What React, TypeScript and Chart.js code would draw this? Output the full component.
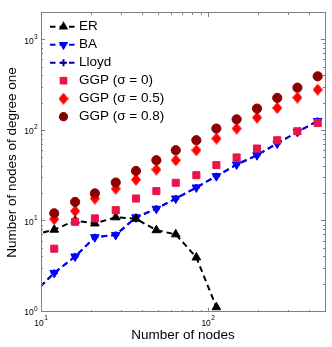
import React, { useEffect, useRef } from 'react';
import { Chart, registerables } from 'chart.js';

Chart.register(...registerables);

const FONT = "'Liberation Sans', Arial, Helvetica, sans-serif";

// ---- data ----
const nodes = [9, 12, 16, 21, 28, 37, 49, 64, 85, 112, 148, 196, 259, 342, 452];
const erNodes = [9, 12, 16, 21, 28, 37, 49, 64, 85, 112];
const erValues = [7.1, 8.1, 10.2, 9.5, 11.1, 10.7, 8.0, 7.2, 4.0, 1.13];
const baValues = [1.6, 2.7, 4.1, 6.7, 7.1, 11.1, 13.8, 17.9, 23.7, 31.6, 42.5, 53.8, 72.4, 97.3, 128.6];
const lloydValues = [1.6, 2.7, 4.1, 6.7, 7.1, 11.1, 13.8, 17.9, 23.7, 31.6, 42.5, 53.8, 72.4, 97.3, 128.6];
const ggpNodes = [12, 16, 21, 28, 37, 49, 64, 85, 112, 148, 196, 259, 342, 452];
const ggp0Values = [5.0, 9.9, 10.8, 13.3, 17.9, 21.6, 26.7, 32.4, 41.8, 50.8, 63.8, 78.7, 99, 122];
const ggp05Values = [10.6, 13.0, 17.9, 23.0, 28.9, 37.4, 47.4, 61.1, 82.2, 106, 140, 179, 233, 285];
const ggp08Values = [12.3, 16.4, 20.4, 26.9, 36.1, 47.4, 61.1, 78.8, 106, 134, 176, 231, 300, 400];

const legendLabels = ['ER', 'BA', 'Lloyd', 'GGP (\u03c3 = 0)', 'GGP (\u03c3 = 0.5)', 'GGP (\u03c3 = 0.8)'];
const xMajorTicks = [10, 100];
const yMajorTicks = [1, 10, 100, 1000];
const xRange = [10, 500];
const yRange = [1, 2000];
const xTitle = 'Number of nodes';
const yTitle = 'Number of nodes of degree one';

const AXIS_COLOR = '#7f7f7f';
const C_ER = '#000000';
const C_BA = '#0000ff';
const C_LLOYD = '#00009c';
const C_G0 = 'rgb(234,20,74)';
const C_G05 = 'rgb(255,0,0)';
const C_G08 = 'rgb(140,0,0)';

const zip = (xs: number[], ys: number[]) => xs.map((x, i) => ({ x, y: ys[i] }));

function makeDiamond(color: string): HTMLCanvasElement {
  const c = document.createElement('canvas');
  c.width = 10;
  c.height = 12;
  const g = c.getContext('2d')!;
  g.fillStyle = color;
  g.beginPath();
  g.moveTo(5, 0);
  g.lineTo(10, 6);
  g.lineTo(5, 12);
  g.lineTo(0, 6);
  g.closePath();
  g.fill();
  return c;
}

function logTicks(min: number, max: number, majors: number[]) {
  const out: { value: number; major: boolean }[] = [];
  for (let d = Math.floor(Math.log10(min)); d <= Math.ceil(Math.log10(max)); d++) {
    for (let k = 1; k <= 9; k++) {
      const v = k * Math.pow(10, d);
      if (v >= min - 1e-9 && v <= max + 1e-9) {
        out.push({ value: v, major: majors.indexOf(v) >= 0 });
      }
    }
  }
  return out;
}

function drawMarker(ctx: CanvasRenderingContext2D, kind: string, x: number, y: number, color: string, img?: HTMLCanvasElement) {
  ctx.save();
  ctx.fillStyle = color;
  ctx.strokeStyle = color;
  ctx.setLineDash([]);
  const r = 5.5;
  if (kind === 'triUp') {
    ctx.beginPath();
    ctx.moveTo(x, y - r);
    ctx.lineTo(x + 0.866 * r, y + r / 2);
    ctx.lineTo(x - 0.866 * r, y + r / 2);
    ctx.closePath();
    ctx.fill();
  } else if (kind === 'triDown') {
    ctx.beginPath();
    ctx.moveTo(x, y + r);
    ctx.lineTo(x + 0.866 * r, y - r / 2);
    ctx.lineTo(x - 0.866 * r, y - r / 2);
    ctx.closePath();
    ctx.fill();
  } else if (kind === 'plus') {
    ctx.lineWidth = 2;
    ctx.beginPath();
    ctx.moveTo(x - 3.5, y);
    ctx.lineTo(x + 3.5, y);
    ctx.moveTo(x, y - 3.5);
    ctx.lineTo(x, y + 3.5);
    ctx.stroke();
  } else if (kind === 'square') {
    ctx.fillRect(x - 3.8, y - 3.8, 7.6, 7.6);
  } else if (kind === 'diamond' && img) {
    ctx.drawImage(img, x - img.width / 2, y - img.height / 2);
  } else if (kind === 'circle') {
    ctx.beginPath();
    ctx.arc(x, y, 4.6, 0, Math.PI * 2);
    ctx.fill();
  }
  ctx.restore();
}

function sup(n: number) {
  return String(Math.round(Math.log10(n)));
}

export default function App() {
  const ref = useRef<HTMLCanvasElement>(null);

  useEffect(() => {
    const canvas = ref.current;
    if (!canvas) return;
    const diamond = makeDiamond(C_G05);
    const kinds = ['triUp', 'triDown', 'plus', 'square', 'diamond', 'circle'];
    const colors = [C_ER, C_BA, C_LLOYD, C_G0, C_G05, C_G08];
    const dashed = [true, true, true, false, false, false];

    const deco = {
      id: 'deco',
      afterDraw(chart: any) {
        const { ctx, chartArea: a, scales } = chart;
        const xs = scales.x;
        const ys = scales.y;
        ctx.save();
        // box
        ctx.strokeStyle = AXIS_COLOR;
        ctx.lineWidth = 1;
        ctx.setLineDash([]);
        ctx.strokeRect(a.left + 0.5, a.top - 0.5, a.right - a.left, a.bottom - a.top);
        // ticks (inside, all four sides)
        ctx.beginPath();
        for (const t of xs.ticks) {
          const px = Math.round(xs.getPixelForValue(t.value)) + 0.5;
          const len = t.major ? 4 : 2;
          ctx.moveTo(px, a.bottom);
          ctx.lineTo(px, a.bottom - len);
          ctx.moveTo(px, a.top);
          ctx.lineTo(px, a.top + len);
        }
        for (const t of ys.ticks) {
          const py = Math.round(ys.getPixelForValue(t.value)) - 0.5;
          const len = t.major ? 4 : 2;
          ctx.moveTo(a.left, py);
          ctx.lineTo(a.left + len, py);
          ctx.moveTo(a.right, py);
          ctx.lineTo(a.right - len, py);
        }
        ctx.stroke();

        // tick labels with superscript exponents
        ctx.fillStyle = '#000';
        ctx.textBaseline = 'alphabetic';
        const baseFont = `8.5px ${FONT}`;
        const expFont = `6.5px ${FONT}`;
        for (const t of ys.ticks) {
          if (!t.major) continue;
          const py = ys.getPixelForValue(t.value);
          ctx.font = expFont;
          const e = sup(t.value);
          const ew = ctx.measureText(e).width;
          ctx.textAlign = 'right';
          ctx.fillText(e, 37.5, py - 1.5);
          ctx.font = baseFont;
          ctx.fillText('10', 37.5 - ew - 0.2, py + 3.3);
        }
        for (const t of xs.ticks) {
          if (!t.major) continue;
          const px = xs.getPixelForValue(t.value);
          ctx.font = baseFont;
          const bw = ctx.measureText('10').width;
          ctx.font = expFont;
          const e = sup(t.value);
          const ew = ctx.measureText(e).width;
          const start = px - (bw + ew + 0.5) / 2;
          ctx.textAlign = 'left';
          ctx.font = baseFont;
          ctx.fillText('10', start, a.bottom + 14);
          ctx.font = expFont;
          ctx.fillText(e, start + bw + 0.5, a.bottom + 8);
        }

        // legend
        const ds = chart.data.datasets;
        for (let i = 0; i < ds.length; i++) {
          const y = a.top + 13.7 + 18 * i;
          if (dashed[i]) {
            ctx.save();
            ctx.strokeStyle = colors[i];
            ctx.lineWidth = 2;
            ctx.setLineDash([5.5, 4]);
            ctx.beginPath();
            ctx.moveTo(50, y);
            ctx.lineTo(77, y);
            ctx.stroke();
            ctx.restore();
          }
          drawMarker(ctx, kinds[i], 63.5, y, colors[i], diamond);
          ctx.fillStyle = '#000';
          ctx.font = `13.5px ${FONT}`;
          ctx.textAlign = 'left';
          ctx.textBaseline = 'middle';
          ctx.fillText(ds[i].label, 79, y);
        }
        ctx.restore();
      },
    };

    const lineDs = (label: string, data: any[], color: string, style: any, radius: number, order: number, extra: any = {}) => ({
      label,
      data,
      showLine: true,
      borderColor: color,
      backgroundColor: color,
      borderWidth: 2,
      borderDash: [6, 4],
      pointStyle: style,
      pointRadius: radius,
      pointBackgroundColor: color,
      pointBorderColor: color,
      pointBorderWidth: 1,
      clip: 0,
      order,
      ...extra,
    });
    const ptDs = (label: string, data: any[], color: string, style: any, radius: number, order: number) => ({
      label,
      data,
      showLine: false,
      borderColor: color,
      backgroundColor: color,
      pointStyle: style,
      pointRadius: radius,
      pointBackgroundColor: color,
      pointBorderColor: color,
      pointBorderWidth: 1,
      clip: 0,
      order,
    });

    const chart = new Chart(canvas, {
      type: 'scatter',
      data: {
        datasets: [
          lineDs(legendLabels[0], zip(erNodes, erValues), C_ER, 'triangle', 5, 3),
          lineDs(legendLabels[1], zip(nodes, baValues), C_BA, 'triangle', 5, 4, { pointRotation: 180 }),
          lineDs(legendLabels[2], zip(nodes, lloydValues), C_LLOYD, 'cross', 3.5, 5, { pointBorderWidth: 2 }),
          ptDs(legendLabels[3], zip(ggpNodes, ggp0Values), C_G0, 'rect', 5, 2),
          ptDs(legendLabels[4], zip(ggpNodes, ggp05Values), C_G05, diamond, 5, 1),
          ptDs(legendLabels[5], zip(ggpNodes, ggp08Values), C_G08, 'circle', 4.6, 0),
        ] as any,
      },
      options: {
        responsive: false,
        animation: false,
        devicePixelRatio: 1,
        events: [],
        layout: { padding: { top: 13, right: 7, left: 0, bottom: 0 } },
        plugins: { legend: { display: false }, tooltip: { enabled: false }, title: { display: false } },
        scales: {
          x: {
            type: 'logarithmic',
            min: xRange[0],
            max: xRange[1],
            grid: { display: false },
            border: { display: false },
            ticks: { display: false },
            afterBuildTicks: (s: any) => {
              s.ticks = logTicks(xRange[0], xRange[1], xMajorTicks);
            },
            afterFit: (s: any) => {
              s.height = 35;
            },
            title: {
              display: true,
              text: xTitle,
              color: '#000',
              font: { family: FONT, size: 13.5 },
              padding: { top: 0, bottom: 3.6 },
            },
          },
          y: {
            type: 'logarithmic',
            min: yRange[0],
            max: yRange[1],
            grid: { display: false },
            border: { display: false },
            ticks: { display: false },
            afterBuildTicks: (s: any) => {
              s.ticks = logTicks(yRange[0], yRange[1], yMajorTicks);
            },
            afterFit: (s: any) => {
              s.width = 41;
            },
            title: {
              display: true,
              text: yTitle,
              color: '#000',
              font: { family: FONT, size: 13.5 },
              padding: { top: 3.9, bottom: 0 },
            },
          },
        },
      } as any,
      plugins: [deco],
    });
    return () => chart.destroy();
  }, []);

  return (
    <div style={{ position: 'fixed', left: 0, top: 0, width: 332, height: 347, background: '#fff' }}>
      <canvas ref={ref} width={332} height={347} style={{ display: 'block', width: 332, height: 347 }} />
    </div>
  );
}
